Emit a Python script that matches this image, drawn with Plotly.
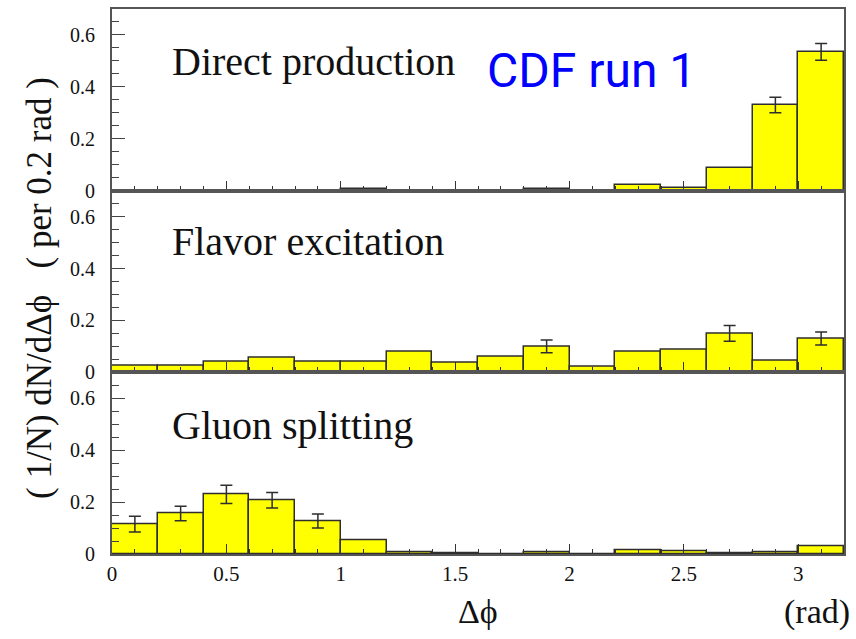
import plotly.graph_objects as go
from plotly.subplots import make_subplots

# ---- data ----
bin_edges = [round(0.2 * i, 1) for i in range(17)]
bin_centers = [round(0.1 + 0.2 * i, 1) for i in range(16)]

direct = [0, 0, 0, 0, 0, 0.005, 0, 0, 0, 0.005, 0, 0.022, 0.01, 0.088, 0.33, 0.535]
direct_err = [0, 0, 0, 0, 0, 0, 0, 0, 0, 0, 0, 0, 0, 0, 0.03, 0.032]

flavor = [0.025, 0.025, 0.042, 0.058, 0.04, 0.042, 0.078, 0.038,
          0.06, 0.10, 0.02, 0.078, 0.088, 0.15, 0.046, 0.13]
flavor_err = [0, 0, 0, 0, 0, 0, 0, 0, 0, 0.025, 0, 0, 0, 0.03, 0, 0.025]

gluon = [0.115, 0.156, 0.23, 0.207, 0.127, 0.054, 0.008, 0.004,
         0.0, 0.007, 0.0, 0.015, 0.01, 0.003, 0.008, 0.03]
gluon_err = [0.03, 0.028, 0.035, 0.03, 0.027, 0, 0, 0, 0, 0, 0, 0, 0, 0, 0, 0]

panel_labels = ["Direct production", "Flavor excitation", "Gluon splitting"]
x_ticks = [0, 0.5, 1, 1.5, 2, 2.5, 3]
x_tick_text = ["0", "0.5", "1", "1.5", "2", "2.5", "3"]
y_ticks = [0, 0.2, 0.4, 0.6]
y_tick_text = ["0", "0.2", "0.4", "0.6"]

series = [(direct, direct_err), (flavor, flavor_err), (gluon, gluon_err)]

# ---- figure ----
W, H = 856, 639
ML, MR, MT, MB = 112, 12, 7, 85
PW, PH = W - ML - MR, H - MT - MB

fig = make_subplots(rows=3, cols=1, shared_xaxes=True, vertical_spacing=0)

serif = "Liberation Serif"
edge = "#2e2e2e"

for i, (vals, errs) in enumerate(series, start=1):
    fig.add_trace(go.Bar(
        x=bin_centers, y=vals, width=0.2,
        marker=dict(color="#FFFF00", line=dict(color=edge, width=1.5)),
        showlegend=False), row=i, col=1)
    ex = [c for c, e in zip(bin_centers, errs) if e > 0]
    ey = [v for v, e in zip(vals, errs) if e > 0]
    ee = [e for e in errs if e > 0]
    if ex:
        fig.add_trace(go.Scatter(
            x=ex, y=ey, mode="markers",
            marker=dict(size=1, color=edge),
            error_y=dict(type="data", array=ee, color=edge, thickness=1.5, width=6),
            showlegend=False), row=i, col=1)

for i in range(1, 4):
    fig.update_xaxes(row=i, col=1, range=[0, 3.2],
                     tickvals=x_ticks, ticktext=x_tick_text,
                     ticks="inside", ticklen=10, tickwidth=1.2, tickcolor="#333",
                     minor=dict(dtick=0.1, tick0=0, ticks="inside", ticklen=5,
                                tickwidth=1.2, tickcolor="#333"),
                     showline=True, linecolor="#555", linewidth=2, mirror=True,
                     showgrid=False, zeroline=False,
                     tickfont=dict(family=serif, size=21, color="#111"))
    fig.update_yaxes(row=i, col=1, range=[0, 0.7],
                     tickvals=y_ticks, ticktext=y_tick_text,
                     ticks="inside", ticklen=13, tickwidth=1.2, tickcolor="#444",
                     minor=dict(dtick=0.05, tick0=0, ticks="inside", ticklen=7,
                                tickwidth=1.2, tickcolor="#444"),
                     showline=True, linecolor="#555", linewidth=2, mirror=True,
                     showgrid=False, zeroline=False, ticklabelstandoff=11,
                     tickfont=dict(family=serif, size=20, color="#111"))

def px_x(X):
    return (X - ML) / PW

def px_y(Y):
    return (H - MB - Y) / PH

annos = []
for lab, yc in zip(panel_labels, [60, 240, 425]):
    annos.append(dict(text=lab, xref="paper", yref="paper", x=px_x(170), y=px_y(yc),
                      xanchor="left", yanchor="middle", showarrow=False,
                      font=dict(family=serif, size=40, color="#111")))
annos.append(dict(text="CDF run 1", xref="paper", yref="paper", x=px_x(485), y=px_y(69),
                  xanchor="left", yanchor="middle", showarrow=False,
                  font=dict(family="Roboto", size=48, color="#0000FF")))
annos.append(dict(text="( 1/N) dN/dΔϕ   ( per 0.2 rad )", xref="paper", yref="paper",
                  x=px_x(40), y=px_y(287), xanchor="center", yanchor="middle",
                  textangle=-90, showarrow=False,
                  font=dict(family=serif, size=35, color="#111")))
annos.append(dict(text="Δϕ", xref="paper", yref="paper", x=px_x(478), y=px_y(612),
                  xanchor="center", yanchor="middle", showarrow=False,
                  font=dict(family=serif, size=34, color="#111")))
annos.append(dict(text="(rad)", xref="paper", yref="paper", x=px_x(852), y=px_y(612),
                  xanchor="right", yanchor="middle", showarrow=False,
                  font=dict(family=serif, size=34, color="#111")))

fig.update_layout(width=W, height=H, margin=dict(l=ML, r=MR, t=MT, b=MB),
                  paper_bgcolor="white", plot_bgcolor="white",
                  bargap=0, annotations=annos)

fig.write_html("out.html")
